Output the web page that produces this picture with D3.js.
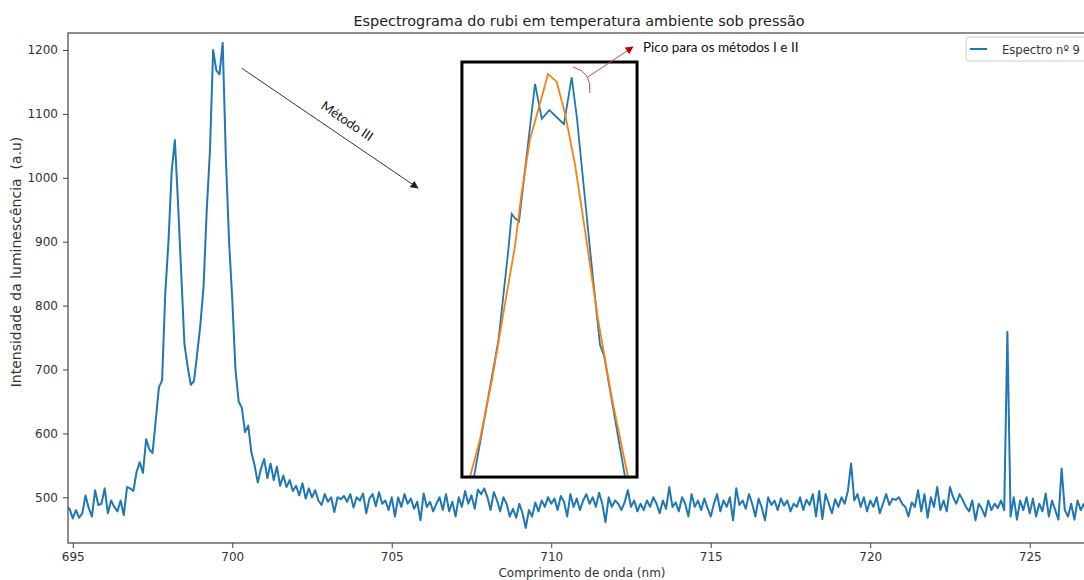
<!DOCTYPE html>
<html>
<head>
<meta charset="utf-8">
<script src="https://cdn.jsdelivr.net/npm/d3@7"></script>
<style>
body { margin: 0; background: #fff; }
svg { display: block; }
.axis text { font-family: "DejaVu Sans", sans-serif; font-size: 12px; fill: #333; }
.axis line { stroke: #444; }
</style>
</head>
<body>
<script>
// spectrum, sampled every 0.1 nm starting at 694.8 nm (one row = 1 nm)
let wlStart = 694.8,
    wlStep = 0.1;
let intensity = [
    485, 482, 467, 480, 468, 475, 503, 483, 470, 511,
    488, 490, 514, 475, 495, 485, 478, 495, 472, 516,
    514, 510, 540, 555, 538, 591, 575, 569, 620, 672,
    683, 820, 900, 1010, 1059, 960, 850, 740, 705, 676,
    682, 725, 770, 830, 950, 1042, 1200, 1168, 1162, 1211,
    1030, 900, 810, 700, 650, 640, 602, 612, 570, 550,
    523, 545, 560, 530, 553, 527, 548, 518, 534, 516,
    527, 510, 518, 503, 522, 498, 514, 500, 511, 495,
    488, 505, 493, 500, 477, 500, 497, 502, 493, 505,
    484, 500, 495, 506, 475, 498, 505, 486, 508, 490,
    495, 480, 500, 470, 500, 485, 505, 490, 498, 482,
    493, 464, 506, 485, 493, 478, 490, 500, 480, 505,
    478, 493, 470, 500, 485, 510, 490, 503, 482, 512,
    505, 514, 500, 480, 508, 495, 478, 500, 490, 470,
    482, 468, 490, 475, 452, 480, 470, 492, 478, 495,
    485, 500, 490, 498, 480, 502, 493, 470, 505, 485,
    498, 480, 495, 505, 490, 500, 485, 507, 490, 461,
    500, 485, 495, 490, 480, 492, 511, 485, 495, 478,
    490, 480, 495, 485, 500, 490, 475, 495, 482, 516,
    485, 492, 478, 500, 490, 470, 505, 485, 495, 480,
    498, 483, 470, 490, 505, 478, 495, 485, 500, 464,
    514, 488, 495, 482, 505, 490, 470, 498, 484, 464,
    500, 488, 495, 480, 498, 487, 495, 478, 490, 485,
    500, 480, 496, 488, 505, 470, 510, 466, 505, 490,
    475, 497, 485, 500, 490, 510, 553, 495, 505, 485,
    500, 478, 495, 485, 500, 475, 490, 505, 488, 498,
    496, 500, 490, 485, 470, 492, 485, 511, 478, 505,
    468, 500, 485, 516, 480, 495, 478, 516, 500, 490,
    505, 496, 485, 478, 495, 464, 490, 482, 470, 495,
    480, 490, 483, 495, 480, 759, 470, 500, 465, 495,
    480, 500, 475, 498, 470, 490, 478, 506, 470, 495,
    480, 465, 545, 480, 470, 490, 465, 495, 480, 490,
    470
];

// inset: zoom on the second peak, measured spectrum and fitted curve
let insetWl = [698.982, 699.150, 699.218, 699.241, 699.263, 699.291, 699.401, 699.447, 699.499,
               699.599, 699.652, 699.687, 699.778, 699.846, 699.874, 700.018];
let insetSpectrum = [850, 975, 1058, 1091, 1087, 1084, 1210, 1178, 1186,
                     1173, 1216, 1180, 1058, 971, 961, 850];
let fitWl = [698.955, 699.023, 699.106, 699.188, 699.263, 699.309, 699.366, 699.435, 699.490,
             699.549, 699.606, 699.675, 699.743, 699.833, 699.929, 700.038];
let fitValues = [850, 884, 939, 1003, 1061, 1110, 1159, 1192, 1219,
                 1212, 1183, 1136, 1076, 994, 921, 850];

let xTicks = [695, 700, 705, 710, 715, 720, 725];
let yTicks = [500, 600, 700, 800, 900, 1000, 1100, 1200];

let title = "Espectrograma do rubi em temperatura ambiente sob pressão",
    xLabel = "Comprimento de onda (nm)",
    yLabel = "Intensidade da luminescência  (a.u)",
    legendLabel = "Espectro nº 9";

let svgWidth = 1084,
    svgHeight = 580,
    plot = { left: 68, right: 1090, top: 33, bottom: 543 },
    blue = "#1f77b4",
    orange = "#ff7f0e";

let svg, x, y;

function init() {
    svg = d3.select("body").append("svg")
        .attr("width", svgWidth)
        .attr("height", svgHeight);

    let defs = svg.append("defs");
    defs.append("clipPath").attr("id", "plotClip")
        .append("rect")
        .attr("x", plot.left).attr("y", plot.top)
        .attr("width", plot.right - plot.left).attr("height", plot.bottom - plot.top);
    addArrowMarker(defs, "arrowBlack", "#222");
    addArrowMarker(defs, "arrowRed", "#c00000");

    x = d3.scaleLinear().domain([694.85, 726.89]).range([plot.left, plot.right]);
    y = d3.scaleLinear().domain([428.5, 1226.6]).range([plot.bottom, plot.top]);

    drawAxes();
    drawSpectrum();
    drawFrame();
    drawLegend();
    drawInset();
    drawAnnotations();
}

function addArrowMarker(defs, id, color) {
    defs.append("marker")
        .attr("id", id)
        .attr("viewBox", "0 0 10 10")
        .attr("refX", 9).attr("refY", 5)
        .attr("markerWidth", 8).attr("markerHeight", 8)
        .attr("markerUnits", "userSpaceOnUse")
        .attr("orient", "auto")
        .append("path")
        .attr("d", "M0,0L10,5L0,10z")
        .style("fill", color);
}

function drawAxes() {
    let xAxis = d3.axisBottom(x).tickValues(xTicks).tickSize(5).tickPadding(4).tickSizeOuter(0)
        .tickFormat(d3.format("d"));
    let yAxis = d3.axisLeft(y).tickValues(yTicks).tickSize(5).tickPadding(5).tickSizeOuter(0)
        .tickFormat(d3.format("d"));

    svg.append("g")
        .attr("class", "axis")
        .attr("transform", "translate(0," + plot.bottom + ")")
        .call(xAxis)
        .call(g => g.select(".domain").remove());

    svg.append("g")
        .attr("class", "axis")
        .attr("transform", "translate(" + plot.left + ",0)")
        .call(yAxis)
        .call(g => g.select(".domain").remove());

    svg.append("text")
        .attr("x", 579).attr("y", 26)
        .attr("text-anchor", "middle")
        .style("font-family", "DejaVu Sans, sans-serif")
        .style("font-size", "14.4px")
        .style("fill", "#222")
        .text(title);

    svg.append("text")
        .attr("x", 582).attr("y", 577)
        .attr("text-anchor", "middle")
        .style("font-family", "DejaVu Sans, sans-serif")
        .style("font-size", "12px")
        .style("fill", "#333")
        .text(xLabel);

    svg.append("text")
        .attr("transform", "translate(21,262) rotate(-90)")
        .attr("text-anchor", "middle")
        .style("font-family", "DejaVu Sans, sans-serif")
        .style("font-size", "14px")
        .style("white-space", "pre")
        .style("fill", "#333")
        .text(yLabel);
}

function drawSpectrum() {
    let points = intensity.map((v, i) => ({ wl: wlStart + i * wlStep, v: v }));
    let line = d3.line().x(d => x(d.wl)).y(d => y(d.v));

    svg.append("path")
        .datum(points)
        .attr("clip-path", "url(#plotClip)")
        .attr("d", line)
        .style("fill", "none")
        .style("stroke", blue)
        .style("stroke-width", 2)
        .style("stroke-linejoin", "round");
}

function drawFrame() {
    svg.append("rect")
        .attr("x", plot.left).attr("y", plot.top)
        .attr("width", plot.right - plot.left).attr("height", plot.bottom - plot.top)
        .style("fill", "none")
        .style("stroke", "#444")
        .style("stroke-width", 1.2);
}

function drawLegend() {
    let g = svg.append("g");
    g.append("rect")
        .attr("x", 966).attr("y", 37)
        .attr("width", 150).attr("height", 24)
        .attr("rx", 3)
        .style("fill", "#fff")
        .style("stroke", "#d0d0d0");
    g.append("line")
        .attr("x1", 970).attr("x2", 987)
        .attr("y1", 49).attr("y2", 49)
        .style("stroke", blue)
        .style("stroke-width", 2);
    g.append("text")
        .attr("x", 1002).attr("y", 53.5)
        .style("font-family", "DejaVu Sans, sans-serif")
        .style("font-size", "11.6px")
        .style("fill", "#333")
        .text(legendLabel);
}

function drawInset() {
    // box placed in main-axis units
    let box = { x0: x(707.2), x1: x(712.69), y0: y(1181.2), y1: y(531.7) };
    let ix = d3.scaleLinear().domain([698.9, 700.1]).range([box.x0, box.x1]);
    let iy = d3.scaleLinear().domain([850, 1230]).range([box.y1, box.y0]);

    svg.select("defs").append("clipPath").attr("id", "insetClip")
        .append("rect")
        .attr("x", box.x0).attr("y", box.y0)
        .attr("width", box.x1 - box.x0).attr("height", box.y1 - box.y0);

    svg.append("rect")
        .attr("x", box.x0).attr("y", box.y0)
        .attr("width", box.x1 - box.x0).attr("height", box.y1 - box.y0)
        .style("fill", "#fff");

    let g = svg.append("g").attr("clip-path", "url(#insetClip)");
    g.append("path")
        .datum(d3.zip(insetWl, insetSpectrum))
        .attr("d", d3.line().x(d => ix(d[0])).y(d => iy(d[1])))
        .style("fill", "none")
        .style("stroke", blue)
        .style("stroke-width", 1.8);
    g.append("path")
        .datum(d3.zip(fitWl, fitValues))
        .attr("d", d3.line().x(d => ix(d[0])).y(d => iy(d[1])))
        .style("fill", "none")
        .style("stroke", orange)
        .style("stroke-width", 1.8);

    svg.append("rect")
        .attr("x", box.x0).attr("y", box.y0)
        .attr("width", box.x1 - box.x0).attr("height", box.y1 - box.y0)
        .style("fill", "none")
        .style("stroke", "#000")
        .style("stroke-width", 3);
}

function drawAnnotations() {
    // "Método III" arrow
    svg.append("line")
        .attr("x1", x(700.3)).attr("y1", y(1171.4))
        .attr("x2", x(705.82)).attr("y2", y(984))
        .attr("marker-end", "url(#arrowBlack)")
        .style("stroke", "#333")
        .style("stroke-width", 1);
    svg.append("text")
        .attr("transform", "translate(" + x(703.6) + "," + y(1089) + ") rotate(34.2)")
        .attr("text-anchor", "middle")
        .attr("dy", "0.35em")
        .style("font-family", "Lato, sans-serif")
        .style("font-size", "13px")
        .style("fill", "#111")
        .text("Método III");

    // peak arrow and bracket
    svg.append("path")
        .attr("d", "M" + x(710.68) + "," + y(1173.4) + "Q" + x(711.28) + "," + y(1165.6) + " " + x(711.21) + "," + y(1132.7))
        .style("fill", "none")
        .style("stroke", "#b04a5a")
        .style("stroke-width", 1);
    svg.append("line")
        .attr("x1", x(711.15)).attr("y1", y(1157.8))
        .attr("x2", x(712.56)).attr("y2", y(1204.7))
        .attr("marker-end", "url(#arrowRed)")
        .style("stroke", "#c0504d")
        .style("stroke-width", 1);
    svg.append("text")
        .attr("x", 643).attr("y", 52)
        .style("font-family", "Lato, sans-serif")
        .style("font-size", "13.5px")
        .style("fill", "#111")
        .text("Pico para os métodos I e II");
}

init();
</script>
</body>
</html>
